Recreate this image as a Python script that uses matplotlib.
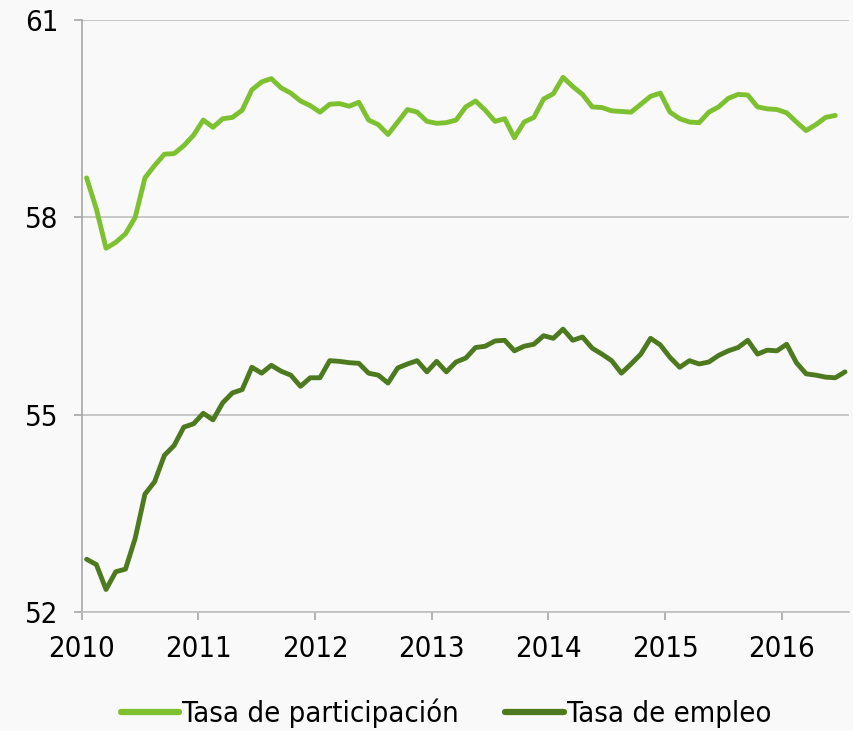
import numpy as np
from matplotlib import pyplot as plt

plt.rcParams['font.family'] = ['DejaVu Sans']
plt.rcParams['font.stretch'] = 'condensed'

# monthly series, Jan 2010 onwards
participacion = [58.60, 58.13, 57.53, 57.62, 57.75, 58.00, 58.60, 58.79, 58.96, 58.97, 59.09, 59.25,
                 59.48, 59.37, 59.50, 59.52, 59.63, 59.94, 60.06, 60.11, 59.97, 59.89, 59.77, 59.70,
                 59.60, 59.72, 59.73, 59.69, 59.75, 59.48, 59.41, 59.26, 59.45, 59.64, 59.60, 59.46,
                 59.43, 59.44, 59.48, 59.68, 59.77, 59.63, 59.46, 59.50, 59.21, 59.45, 59.52, 59.80,
                 59.88, 60.13, 59.99, 59.87, 59.68, 59.67, 59.62, 59.61, 59.60, 59.72, 59.84, 59.89,
                 59.60, 59.50, 59.45, 59.44, 59.60, 59.68, 59.81, 59.87, 59.86, 59.68, 59.65, 59.64,
                 59.59, 59.45, 59.32, 59.41, 59.52, 59.55]
empleo = [52.80, 52.72, 52.34, 52.61, 52.65, 53.12, 53.79, 53.98, 54.38, 54.53, 54.81, 54.86,
          55.02, 54.92, 55.18, 55.33, 55.38, 55.72, 55.63, 55.75, 55.66, 55.60, 55.43, 55.56,
          55.56, 55.82, 55.81, 55.79, 55.78, 55.63, 55.60, 55.48, 55.71, 55.77, 55.82, 55.65,
          55.81, 55.65, 55.80, 55.86, 56.02, 56.04, 56.12, 56.13, 55.97, 56.04, 56.07, 56.20,
          56.16, 56.30, 56.13, 56.18, 56.01, 55.92, 55.82, 55.63, 55.77, 55.92, 56.16, 56.06,
          55.87, 55.72, 55.82, 55.77, 55.80, 55.90, 55.97, 56.02, 56.13, 55.92, 55.98, 55.97,
          56.07, 55.79, 55.62, 55.60, 55.57, 55.56, 55.65]
years = [2010, 2011, 2012, 2013, 2014, 2015, 2016]
yticks = [52, 55, 58, 61]

x_part = 2010 + (np.arange(len(participacion)) + 0.5) / 12
x_emp = 2010 + (np.arange(len(empleo)) + 0.5) / 12

fig = plt.figure(figsize=(8.54, 7.31), dpi=100, facecolor='#f9f9f9')
ax = fig.add_axes([0.0957, 0.163, 0.899, 0.8095])
ax.set_facecolor('#f9f9f9')

ax.plot(x_part, participacion, color='#7dc030', lw=3.5, solid_joinstyle='round',
        solid_capstyle='round', label='Tasa de participación')
ax.plot(x_emp, empleo, color='#4e7a1f', lw=3.5, solid_joinstyle='round',
        solid_capstyle='round', label='Tasa de empleo')

ax.set_ylim(52, 61)
ax.set_xlim(2010, 2016.58)
ax.set_yticks(yticks)
ax.set_xticks(years)
ax.set_xticklabels([str(y) for y in years])
ax.yaxis.grid(True, color='#bfbfbf', lw=1.2)
ax.set_axisbelow(True)

for s in ['top', 'right']:
    ax.spines[s].set_visible(False)
ax.spines['left'].set_color('#a6a6a6')
ax.spines['bottom'].set_color('#bfbfbf')
ax.spines['left'].set_linewidth(1.2)
ax.spines['bottom'].set_linewidth(1.2)
ax.tick_params(axis='both', colors='#a6a6a6', labelcolor='black', labelsize=21, length=6, width=1.2)
ax.tick_params(axis='x', pad=11)
ax.tick_params(axis='y', pad=11)

leg = fig.legend(loc='center', bbox_to_anchor=(0.522, 0.024), ncol=2, frameon=False, fontsize=21,
                 handlelength=2.0, handletextpad=0.1, columnspacing=1.6)
for h in leg.get_lines():
    h.set_linewidth(4.5)

fig.savefig('out.png', dpi=100, facecolor=fig.get_facecolor())
